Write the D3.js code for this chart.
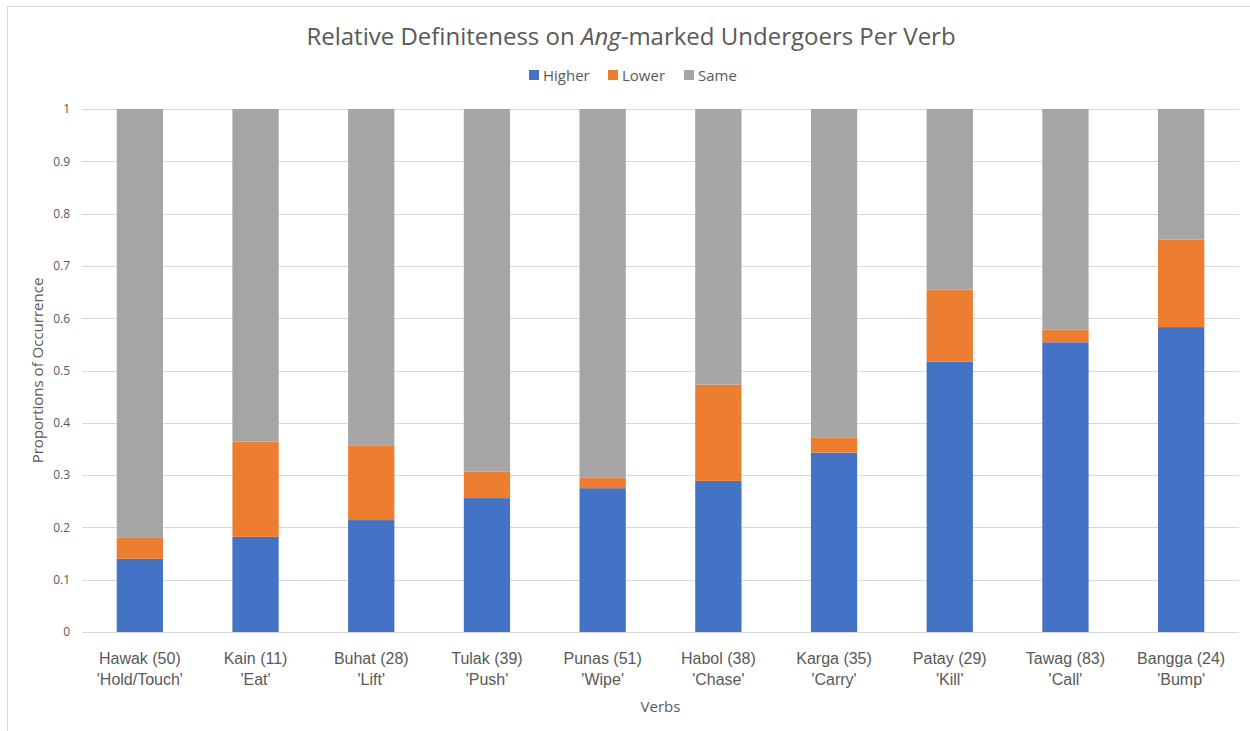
<!DOCTYPE html>
<html>
<head>
<meta charset="utf-8">
<script src="https://cdn.jsdelivr.net/npm/d3@7/dist/d3.min.js"></script>
<style>
  html, body { margin: 0; padding: 0; background: #fff; }
  svg { display: block; font-family: "Open Sans", "Noto Sans", sans-serif; }
</style>
</head>
<body>
<svg id="chart" width="1250" height="731"></svg>
<script>
// Verb labels (two lines each: verb with token count, gloss)
const verbs = ["Hawak (50)", "Kain (11)", "Buhat (28)", "Tulak (39)", "Punas (51)",
               "Habol (38)", "Karga (35)", "Patay (29)", "Tawag (83)", "Bangga (24)"];
const glosses = ["'Hold/Touch'", "'Eat'", "'Lift'", "'Push'", "'Wipe'",
                 "'Chase'", "'Carry'", "'Kill'", "'Call'", "'Bump'"];

// Proportions per verb for each series
const higher = [0.14, 0.182, 0.214, 0.256, 0.275, 0.289, 0.343, 0.517, 0.554, 0.583];
const lower  = [0.04, 0.182, 0.143, 0.051, 0.020, 0.184, 0.029, 0.138, 0.024, 0.167];
const same   = [0.82, 0.636, 0.643, 0.693, 0.705, 0.527, 0.628, 0.345, 0.422, 0.25];

const seriesNames = ["Higher", "Lower", "Same"];
const seriesColors = ["#4472C4", "#ED7D31", "#A5A5A5"];
const yTicks = [0, 0.1, 0.2, 0.3, 0.4, 0.5, 0.6, 0.7, 0.8, 0.9, 1];

const svg = d3.select("#chart");
const textColor = "#595959";

// outer chart frame
svg.append("rect")
  .attr("x", 7.5).attr("y", 6.5)
  .attr("width", 1260).attr("height", 740)
  .attr("fill", "#fff").attr("stroke", "#D9D9D9").attr("stroke-width", 1);

const plot = { left: 82, right: 1239, top: 109, bottom: 632 };

const x = d3.scaleBand()
  .domain(verbs)
  .range([plot.left, plot.right])
  .paddingInner(0.6)
  .paddingOuter(0.3);

const y = d3.scaleLinear().domain([0, 1]).range([plot.bottom, plot.top]);

// gridlines
svg.append("g")
  .selectAll("line")
  .data(yTicks)
  .join("line")
  .attr("x1", plot.left).attr("x2", plot.right)
  .attr("y1", d => Math.round(y(d)) + 0.5).attr("y2", d => Math.round(y(d)) + 0.5)
  .attr("stroke", "#D9D9D9").attr("stroke-width", 1);

// y-axis tick labels
const yAxis = d3.axisLeft(y).tickValues(yTicks).tickSize(0).tickPadding(12)
  .tickFormat(d => d3.format("~g")(d));
const yg = svg.append("g").attr("transform", `translate(${plot.left},0)`).call(yAxis);
yg.select(".domain").remove();
yg.selectAll("text").attr("fill", textColor).style("font-size", "12px")
  .style("font-family", "'Open Sans', sans-serif");

// stacked bars
const rows = verbs.map((v, i) => ({ verb: v, Higher: higher[i], Lower: lower[i], Same: same[i] }));
const stack = d3.stack().keys(seriesNames)(rows);

svg.append("g")
  .selectAll("g")
  .data(stack)
  .join("g")
  .attr("fill", (d, i) => seriesColors[i])
  .selectAll("rect")
  .data(d => d)
  .join("rect")
  .attr("x", d => x(d.data.verb))
  .attr("width", x.bandwidth())
  .attr("y", d => y(Math.min(d[1], 1)))
  .attr("height", d => y(d[0]) - y(Math.min(d[1], 1)));

// bottom axis line
svg.append("line")
  .attr("x1", plot.left).attr("x2", plot.right)
  .attr("y1", plot.bottom + 0.5).attr("y2", plot.bottom + 0.5)
  .attr("stroke", "#D9D9D9").attr("stroke-width", 1);

// x-axis category labels (two lines)
const xAxis = d3.axisBottom(x).tickSize(0).tickFormat(() => "");
const xg = svg.append("g").attr("transform", `translate(0,${plot.bottom})`).call(xAxis);
xg.select(".domain").remove();
xg.selectAll(".tick").each(function(d, i) {
  const t = d3.select(this).append("text")
    .attr("fill", textColor)
    .attr("text-anchor", "middle")
    .style("font-size", "16px");
  t.append("tspan").attr("x", 0).attr("y", 32).text(verbs[i]);
  t.append("tspan").attr("x", 0).attr("y", 53).text(glosses[i]);
});

// axis titles
svg.append("text")
  .attr("x", (plot.left + plot.right) / 2).attr("y", 712)
  .attr("text-anchor", "middle").attr("fill", textColor)
  .style("font-size", "15px").text("Verbs");

svg.append("text")
  .attr("transform", `translate(43,${(plot.top + plot.bottom) / 2}) rotate(-90)`)
  .attr("text-anchor", "middle").attr("fill", textColor)
  .style("font-size", "15px").text("Proportions of Occurrence");

// chart title
const title = svg.append("text")
  .attr("x", 631).attr("y", 45)
  .attr("text-anchor", "middle").attr("fill", textColor)
  .style("font-size", "24px");
title.append("tspan").text("Relative Definiteness on ");
title.append("tspan").style("font-style", "italic").text("Ang");
title.append("tspan").text("-marked Undergoers Per Verb");

// legend
const legendItems = [
  { name: seriesNames[0], color: seriesColors[0], x: 529 },
  { name: seriesNames[1], color: seriesColors[1], x: 608 },
  { name: seriesNames[2], color: seriesColors[2], x: 684 }
];
const lg = svg.append("g");
legendItems.forEach(it => {
  lg.append("rect").attr("x", it.x).attr("y", 70).attr("width", 10).attr("height", 10)
    .attr("fill", it.color);
  lg.append("text").attr("x", it.x + 14).attr("y", 80.5)
    .attr("fill", textColor).style("font-size", "15px").text(it.name);
});
</script>
</body>
</html>
